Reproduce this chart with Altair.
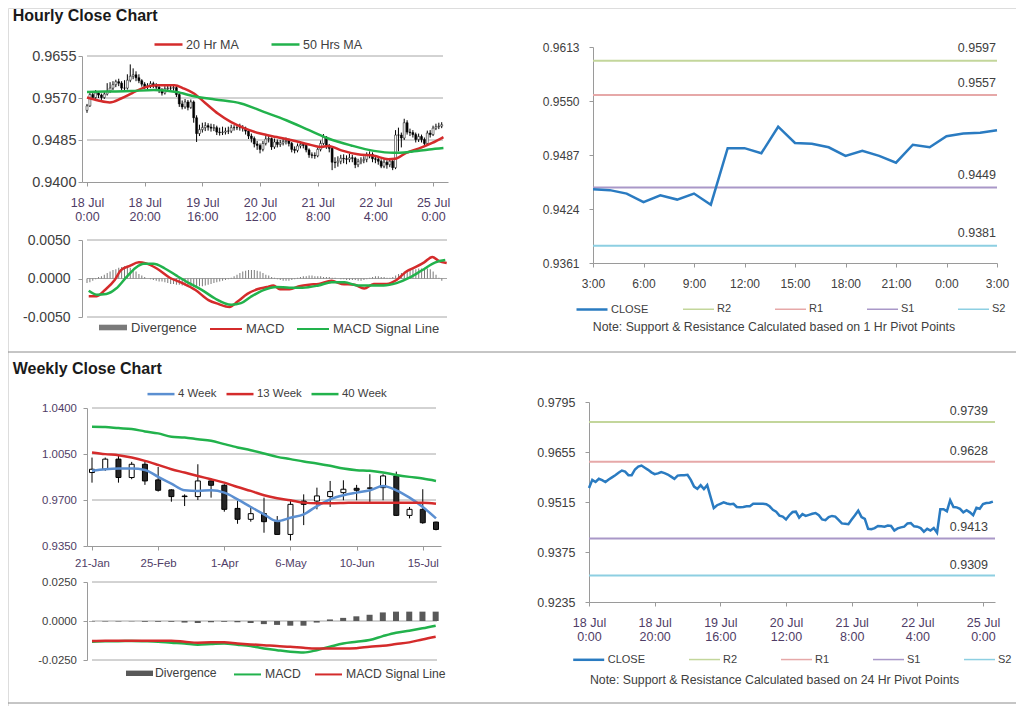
import json
import altair as alt
import pandas as pd

FONT = "Liberation Sans"

# ---------------- data ----------------
hourly_tick_labels = [["18 Jul", "0:00"], ["18 Jul", "20:00"], ["19 Jul", "16:00"], ["20 Jul", "12:00"],
                      ["21 Jul", "8:00"], ["22 Jul", "4:00"], ["25 Jul", "0:00"]]

hourly_open = [0.9545, 0.9554, 0.9577, 0.9571, 0.9580, 0.9576, 0.9571, 0.9578, 0.9584, 0.9590,
               0.9597, 0.9603, 0.9600, 0.9590, 0.9590, 0.9606, 0.9614, 0.9617, 0.9611, 0.9605,
               0.9598, 0.9593, 0.9595, 0.9599, 0.9596, 0.9592, 0.9586, 0.9580, 0.9589, 0.9590,
               0.9590, 0.9591, 0.9577, 0.9558, 0.9552, 0.9562, 0.9551, 0.9562, 0.9530, 0.9498,
               0.9506, 0.9510, 0.9514, 0.9511, 0.9509, 0.9510, 0.9501, 0.9500, 0.9501, 0.9503,
               0.9503, 0.9510, 0.9510, 0.9510, 0.9510, 0.9509, 0.9503, 0.9493, 0.9488, 0.9477,
               0.9474, 0.9466, 0.9478, 0.9487, 0.9488, 0.9471, 0.9481, 0.9476, 0.9479, 0.9482,
               0.9484, 0.9478, 0.9466, 0.9464, 0.9473, 0.9476, 0.9474, 0.9465, 0.9455, 0.9454,
               0.9453, 0.9466, 0.9478, 0.9491, 0.9473, 0.9468, 0.9440, 0.9439, 0.9442, 0.9448,
               0.9447, 0.9446, 0.9449, 0.9448, 0.9435, 0.9441, 0.9444, 0.9446, 0.9455, 0.9456,
               0.9447, 0.9446, 0.9442, 0.9432, 0.9440, 0.9435, 0.9442, 0.9429, 0.9495, 0.9495,
               0.9489, 0.9520, 0.9501, 0.9500, 0.9496, 0.9486, 0.9492, 0.9486, 0.9478, 0.9499,
               0.9496, 0.9509, 0.9512, 0.9513]
hourly_close = [0.9554, 0.9577, 0.9571, 0.9580, 0.9576, 0.9571, 0.9578, 0.9584, 0.9590, 0.9597,
                0.9603, 0.9600, 0.9590, 0.9590, 0.9606, 0.9614, 0.9617, 0.9611, 0.9605, 0.9598,
                0.9593, 0.9595, 0.9599, 0.9596, 0.9592, 0.9586, 0.9580, 0.9589, 0.9590, 0.9590,
                0.9591, 0.9577, 0.9558, 0.9552, 0.9562, 0.9551, 0.9562, 0.9530, 0.9498, 0.9506,
                0.9510, 0.9514, 0.9511, 0.9509, 0.9510, 0.9501, 0.9500, 0.9501, 0.9503, 0.9503,
                0.9510, 0.9510, 0.9510, 0.9510, 0.9509, 0.9503, 0.9493, 0.9488, 0.9477, 0.9474,
                0.9466, 0.9478, 0.9487, 0.9488, 0.9471, 0.9481, 0.9476, 0.9479, 0.9482, 0.9484,
                0.9478, 0.9466, 0.9464, 0.9473, 0.9476, 0.9474, 0.9465, 0.9455, 0.9454, 0.9453,
                0.9466, 0.9478, 0.9491, 0.9473, 0.9468, 0.9440, 0.9439, 0.9442, 0.9448, 0.9447,
                0.9446, 0.9449, 0.9448, 0.9435, 0.9441, 0.9444, 0.9446, 0.9455, 0.9456, 0.9447,
                0.9446, 0.9442, 0.9432, 0.9440, 0.9435, 0.9442, 0.9429, 0.9495, 0.9495, 0.9489,
                0.9520, 0.9501, 0.9500, 0.9496, 0.9486, 0.9492, 0.9486, 0.9478, 0.9499, 0.9496,
                0.9509, 0.9512, 0.9513, 0.9516]
hourly_high = [0.9558, 0.9580, 0.9583, 0.9586, 0.9584, 0.9579, 0.9582, 0.9600, 0.9602, 0.9604,
               0.9607, 0.9609, 0.9604, 0.9606, 0.9618, 0.9638, 0.9630, 0.9624, 0.9618, 0.9608,
               0.9602, 0.9600, 0.9604, 0.9603, 0.9600, 0.9596, 0.9590, 0.9594, 0.9596, 0.9597,
               0.9598, 0.9595, 0.9580, 0.9565, 0.9568, 0.9566, 0.9567, 0.9565, 0.9535, 0.9516,
               0.9520, 0.9521, 0.9519, 0.9518, 0.9517, 0.9514, 0.9510, 0.9512, 0.9510, 0.9512,
               0.9516, 0.9515, 0.9517, 0.9518, 0.9515, 0.9512, 0.9506, 0.9498, 0.9492, 0.9483,
               0.9478, 0.9483, 0.9493, 0.9495, 0.9490, 0.9488, 0.9486, 0.9485, 0.9489, 0.9490,
               0.9488, 0.9481, 0.9472, 0.9478, 0.9482, 0.9480, 0.9478, 0.9468, 0.9460, 0.9460,
               0.9470, 0.9484, 0.9497, 0.9493, 0.9477, 0.9470, 0.9450, 0.9452, 0.9455, 0.9456,
               0.9454, 0.9457, 0.9455, 0.9451, 0.9447, 0.9450, 0.9452, 0.9460, 0.9462, 0.9460,
               0.9453, 0.9450, 0.9446, 0.9446, 0.9444, 0.9447, 0.9446, 0.9505, 0.9510, 0.9500,
               0.9528, 0.9525, 0.9508, 0.9505, 0.9500, 0.9498, 0.9496, 0.9490, 0.9504, 0.9505,
               0.9514, 0.9518, 0.9520, 0.9521]
hourly_low = [0.9540, 0.9552, 0.9566, 0.9568, 0.9570, 0.9566, 0.9568, 0.9575, 0.9580, 0.9586,
              0.9592, 0.9594, 0.9586, 0.9585, 0.9587, 0.9602, 0.9608, 0.9604, 0.9600, 0.9593,
              0.9588, 0.9588, 0.9590, 0.9590, 0.9585, 0.9580, 0.9575, 0.9577, 0.9583, 0.9584,
              0.9585, 0.9572, 0.9552, 0.9547, 0.9548, 0.9545, 0.9548, 0.9520, 0.9481, 0.9493,
              0.9500, 0.9503, 0.9504, 0.9502, 0.9503, 0.9495, 0.9494, 0.9495, 0.9496, 0.9497,
              0.9499, 0.9504, 0.9505, 0.9504, 0.9502, 0.9496, 0.9487, 0.9480, 0.9470, 0.9465,
              0.9458, 0.9462, 0.9474, 0.9480, 0.9465, 0.9467, 0.9470, 0.9471, 0.9474, 0.9476,
              0.9472, 0.9460, 0.9458, 0.9460, 0.9468, 0.9468, 0.9460, 0.9449, 0.9448, 0.9447,
              0.9450, 0.9462, 0.9475, 0.9467, 0.9460, 0.9424, 0.9428, 0.9431, 0.9436, 0.9438,
              0.9436, 0.9440, 0.9440, 0.9428, 0.9430, 0.9436, 0.9438, 0.9440, 0.9448, 0.9440,
              0.9438, 0.9435, 0.9428, 0.9428, 0.9427, 0.9430, 0.9424, 0.9426, 0.9462, 0.9470,
              0.9485, 0.9496, 0.9493, 0.9490, 0.9480, 0.9481, 0.9480, 0.9472, 0.9475, 0.9490,
              0.9493, 0.9505, 0.9507, 0.9509]

ma20_bar = [0, 3.9, 7.9, 11.8, 15.7, 19.7, 24.2, 30.3, 33.7, 37.1, 41, 45.5, 50, 54.5, 60.1, 65.8,
            71.4, 77, 80.9, 83.7, 88.2, 93.9, 99.5, 104.5, 106.8, 110.7, 115.2, 119.7, 123.6]
ma20_val = [0.9571, 0.9565, 0.9561, 0.9569, 0.9580, 0.9591, 0.9596, 0.9596, 0.9589, 0.9579, 0.9560,
            0.9538, 0.9521, 0.9509, 0.9498, 0.9491, 0.9484, 0.9476, 0.9471, 0.9473, 0.9464, 0.9456,
            0.9453, 0.9446, 0.9447, 0.9459, 0.9468, 0.9479, 0.9491]
ma50_bar = [0, 6.2, 15.2, 23.1, 31, 37.6, 44.4, 53.4, 61.3, 69.1, 77, 83.7, 91.6, 99.5, 106.2,
            111.8, 118.6, 123.6]
ma50_val = [0.9582, 0.9583, 0.9584, 0.9586, 0.9582, 0.9573, 0.9567, 0.9559, 0.9542, 0.9525, 0.9505,
            0.9488, 0.9474, 0.9463, 0.9459, 0.9461, 0.9466, 0.9469]

macd_bar = [0.6, 3.4, 6.2, 9.6, 11.8, 14.6, 18, 20.2, 24.2, 28.7, 33.1, 37.6, 42.1, 45.5, 49.4, 52.2,
            55.6, 59, 62.4, 64.6, 66.9, 70.2, 73.6, 77, 80.3, 84.8, 88.2, 92.7, 96.1, 99.4, 103.9,
            107.3, 110.7, 114, 116.9, 119.7, 121.9, 124.7]
macd_val = [-0.0023, -0.0023, -0.0015, -0.0002, 0.0011, 0.0016, 0.0021, 0.0020, 0.0013, 0.0001,
            -0.0006, -0.0015, -0.0028, -0.0033, -0.0037, -0.0030, -0.0020, -0.0014, -0.0011, -0.0009,
            -0.0014, -0.0014, -0.0010, -0.0008, -0.0007, -0.0003, -0.0007, -0.0008, -0.0013, -0.0007,
            -0.0007, -0.0002, 0.0009, 0.0015, 0.0021, 0.0028, 0.0023, 0.0020]
sig_bar = [0.6, 3.4, 6.7, 10.1, 13.5, 16.9, 19.7, 23, 27, 30.9, 35.4, 39.9, 44.4, 50, 53.4, 56.7,
           61.2, 65.7, 70.2, 74.7, 80.3, 84.8, 89.3, 93.8, 98.3, 102.8, 107.3, 111.8, 116.3, 120.8, 124.2]
sig_val = [-0.0016, -0.0021, -0.0020, -0.0013, 0.0001, 0.0014, 0.0019, 0.0019, 0.0013, 0.0004,
           -0.0006, -0.0015, -0.0026, -0.0034, -0.0032, -0.0024, -0.0015, -0.0011, -0.0012, -0.0012,
           -0.0009, -0.0005, -0.0005, -0.0009, -0.0009, -0.0009, -0.0006, 0.0001, 0.0011, 0.0021, 0.0024]
div_h = [-0.0006, -0.0005, -0.0003, -0.0001,
         0.0002, 0.0003, 0.0005, 0.0007, 0.0009,
         0.0011, 0.0012, 0.0014, 0.0015, 0.0016, 0.0015, 0.0014, 0.0012, 0.0009,
         0.0006, 0.0004, 0.0002,
         0.0000, -0.0001, -0.0002, -0.0003, -0.0004, -0.0004, -0.0005,
         -0.0006, -0.0007, -0.0007, -0.0008, -0.0008, -0.0009, -0.0009, -0.0010, -0.0010, -0.0011,
         -0.0011, -0.0010, -0.0010, -0.0009, -0.0008, -0.0007, -0.0006, -0.0005,
         -0.0004, -0.0003, -0.0002, -0.0001, 0.0001, 0.0003, 0.0005,
         0.0007, 0.0009, 0.0010, 0.0011, 0.0011, 0.0011, 0.0010, 0.0009, 0.0007, 0.0005, 0.0004,
         0.0002, 0.0001,
         -0.0001, -0.0002, -0.0003, -0.0003, -0.0003, -0.0002, -0.0001,
         0.0001, 0.0002, 0.0003, 0.0003, 0.0004, 0.0004, 0.0003, 0.0003, 0.0003, 0.0002, 0.0002,
         0.0002, 0.0001, 0.0001, 0.0000, -0.0001, -0.0001, -0.0002, -0.0002, -0.0002,
         -0.0002, -0.0003, -0.0003, -0.0002, -0.0001, 0.0001, 0.0002,
         0.0003, 0.0003, 0.0002, 0.0002, 0.0001, 0.0001, 0.0002,
         0.0004, 0.0006, 0.0007, 0.0009, 0.0010, 0.0011, 0.0012, 0.0012, 0.0013, 0.0013, 0.0014,
         0.0013, 0.0012, 0.0009, 0.0005, 0.0001, -0.0003]

last_day_close = [0.9447, 0.9446, 0.9442, 0.9432, 0.9440, 0.9435, 0.9442, 0.9429, 0.9495, 0.9495,
                  0.9489, 0.9520, 0.9501, 0.9500, 0.9496, 0.9486, 0.9492, 0.9486, 0.9478, 0.9499,
                  0.9496, 0.9509, 0.9512, 0.9513, 0.9516]
last_day_labels = ["3:00", "6:00", "9:00", "12:00", "15:00", "18:00", "21:00", "0:00", "3:00"]

pivot_names = ["R2", "R1", "S1", "S2"]
pivot_1h = [0.9597, 0.9557, 0.9449, 0.9381]
pivot_24h = [0.9739, 0.9628, 0.9413, 0.9309]

weekly_tick_labels = ["21-Jan", "25-Feb", "1-Apr", "6-May", "10-Jun", "15-Jul"]
weekly_open = [0.9909, 0.9934, 1.0011, 0.9871, 0.9972, 0.9853, 0.9777, 0.9730, 0.9726, 0.9845,
               0.9812, 0.9636, 0.9553, 0.9596, 0.9535, 0.9438, 0.9692, 0.9692, 0.9726, 0.9756,
               0.9789, 0.9789, 0.9794, 0.9883, 0.9583, 0.9629, 0.9532]
weekly_close = [0.9934, 1.0011, 0.9871, 0.9972, 0.9845, 0.9774, 0.9726, 0.9726, 0.9845, 0.9812,
                0.9629, 0.9553, 0.9596, 0.9535, 0.9438, 0.9667, 0.9667, 0.9731, 0.9764, 0.9782,
                0.9774, 0.9792, 0.9883, 0.9583, 0.9629, 0.9527, 0.9476]
weekly_high = [1.0023, 1.0023, 1.0049, 0.9990, 0.9993, 0.9952, 0.9782, 0.9743, 0.9972, 0.9850,
               0.9820, 0.9692, 0.9654, 0.9718, 0.9578, 0.9692, 0.9743, 0.9794, 0.9845, 0.9850,
               0.9815, 0.9896, 0.9896, 0.9916, 0.9647, 0.9782, 0.9535]
weekly_low = [0.9832, 0.9922, 0.9832, 0.9858, 0.9815, 0.9764, 0.9687, 0.9654, 0.9700, 0.9718,
              0.9611, 0.9519, 0.9535, 0.9451, 0.9438, 0.9392, 0.9509, 0.9629, 0.9647, 0.9698,
              0.9698, 0.9672, 0.9698, 0.9578, 0.9560, 0.9519, 0.9469]
wk4 = [0.9922, 0.9934, 0.9939, 0.9939, 0.9929, 0.9876, 0.9825, 0.9774, 0.9769, 0.9774, 0.9756,
       0.9705, 0.9647, 0.9591, 0.9540, 0.9565, 0.9591, 0.9654, 0.9705, 0.9736, 0.9756, 0.9774,
       0.9807, 0.9774, 0.9718, 0.9647, 0.9560]
wk13 = [1.0062, 1.0049, 1.0041, 1.0023, 0.9998, 0.9967, 0.9934, 0.9909, 0.9883, 0.9858, 0.9832,
        0.9799, 0.9769, 0.9736, 0.9713, 0.9698, 0.9680, 0.9675, 0.9675, 0.9677, 0.9680, 0.9680,
        0.9680, 0.9680, 0.9680, 0.9680, 0.9672]
wk40 = [1.0257, 1.0255, 1.0247, 1.0240, 1.0222, 1.0207, 1.0181, 1.0176, 1.0163, 1.0151, 1.0125,
        1.0100, 1.0079, 1.0054, 1.0028, 1.0011, 0.9993, 0.9978, 0.9960, 0.9939, 0.9927, 0.9922,
        0.9909, 0.9891, 0.9876, 0.9863, 0.9845]
w_macd = [-0.0133, -0.0130, -0.0130, -0.0128, -0.0130, -0.0133, -0.0139, -0.0144, -0.0152, -0.0148,
          -0.0144, -0.0152, -0.0161, -0.0176, -0.0187, -0.0197, -0.0202, -0.0187, -0.0165, -0.0144,
          -0.0133, -0.0122, -0.0097, -0.0075, -0.0062, -0.0047, -0.0030]
w_signal = [-0.0129, -0.0127, -0.0127, -0.0127, -0.0127, -0.0127, -0.0127, -0.0133, -0.0139, -0.0137,
            -0.0137, -0.0144, -0.0150, -0.0155, -0.0161, -0.0165, -0.0172, -0.0176, -0.0176, -0.0176,
            -0.0174, -0.0165, -0.0159, -0.0148, -0.0137, -0.0118, -0.0101]
w_div = [-0.0003, -0.0003, -0.0003, -0.0002, -0.0005, -0.0005, -0.0005, -0.0010, -0.0013, -0.0008,
         -0.0005, -0.0008, -0.0013, -0.0020, -0.0025, -0.0030, -0.0030, -0.0010, 0.0010, 0.0020,
         0.0030, 0.0040, 0.0055, 0.0060, 0.0060, 0.0060, 0.0060]

# ---------------- styles ----------------
W, H = 1008, 698
GRID = "#a6a6a6"
AXC = "#9a9a9a"
TXT = "#404040"
DATE = "#4f3d66"
RED = "#d42b2b"
GREEN = "#22b24c"
BLUE4 = "#5b8fd1"
CLOSE_BLUE = "#2a7bc1"
PIVOT_COLORS = ["#c3d69b", "#e6a8a8", "#a998c8", "#8dcfe2"]
SIGNED = "datum.value < 0 ? '-' + format(-datum.value, '.4f') : format(datum.value, '.4f')"
BAR_SYMBOL = "M-1,-0.2H1V0.2H-1Z"


def label_expr(labels, step):
    return f"{json.dumps(labels)}[round(datum.value / {step})]"


def axis(**kw):
    base = dict(title=None, domainColor=AXC, tickColor=AXC, tickSize=4, labelFont=FONT,
                labelColor=TXT, grid=False, labelFlush=False, labelOverlap=False)
    base.update(kw)
    return alt.Axis(**base)


def legend(x, y, size, font, pad, stroke_w=2.5, offset=2, symbol="stroke"):
    return alt.Legend(orient="none", legendX=x, legendY=y, direction="horizontal", title=None,
                      symbolType=symbol, symbolSize=size, symbolStrokeWidth=stroke_w, labelFont=FONT,
                      labelFontSize=font, labelColor=TXT, labelOffset=offset, columnPadding=pad)


def bar_legend(x, y, size, font, offset):
    return alt.Legend(orient="none", legendX=x, legendY=y, direction="horizontal", title=None,
                      symbolType=BAR_SYMBOL, symbolSize=size, symbolStrokeWidth=0, labelFont=FONT,
                      labelFontSize=font, labelColor=TXT, labelOffset=offset)


def grid_rules(vals, xs, xa, x0, x1, ys, ya, color=GRID):
    return alt.Chart(pd.DataFrame({"v": vals})).mark_rule(color=color, strokeWidth=1).encode(
        x=alt.XDatum(x0, scale=xs, axis=xa), x2=alt.X2Datum(x1), y=alt.Y("v:Q", scale=ys, axis=ya))


def text_layer(text, x, y, size, weight="normal", align="left", baseline="alphabetic", color="#1a1a1a"):
    return alt.Chart(pd.DataFrame({"t": [text]})).mark_text(
        align=align, baseline=baseline, font=FONT, fontSize=size, fontWeight=weight, color=color).encode(
        x=alt.value(x), y=alt.value(y), text="t:N")


def hline(y):
    return alt.Chart(pd.DataFrame({"a": [0]})).mark_rule(color="#8c8c8c", strokeWidth=1).encode(
        x=alt.value(0), x2=alt.value(W), y=alt.value(y))


# ================= hourly candles (page x 82-448, y 56-182) =================
n_h = len(hourly_close)
dfh = pd.DataFrame({"i": list(range(n_h)), "open": hourly_open, "high": hourly_high,
                    "low": hourly_low, "close": hourly_close})
HX = alt.Scale(domain=[0, 123.45], range=[74, 440], nice=False, zero=False)
HY = alt.Scale(domain=[0.9400, 0.9655], range=[174, 48], nice=False, zero=False)
hx_axis = axis(orient="bottom", offset=174 - H, values=[0, 20, 40, 60, 80, 100, 120],
               labelExpr=label_expr(hourly_tick_labels, 20), labelFontSize=12.5, labelColor=DATE,
               labelPadding=10, labelLineHeight=14)
hy_axis = axis(orient="left", offset=-74, values=[0.94, 0.9485, 0.957, 0.9655], format=".4f",
               labelFontSize=14.5, labelPadding=2)
h_grid = grid_rules([0.9485, 0.957, 0.9655], HX, hx_axis, 0, 123.45, HY, hy_axis)
h_wick = alt.Chart(dfh).mark_rule(color="black", strokeWidth=1).encode(
    x=alt.X("i:Q", scale=HX, axis=hx_axis), y=alt.Y("low:Q", scale=HY, axis=hy_axis), y2="high:Q")
h_body = alt.Chart(dfh).mark_bar(size=2, stroke="black", strokeWidth=0.5).encode(
    x=alt.X("i:Q", scale=HX, axis=hx_axis), y=alt.Y("open:Q", scale=HY, axis=hy_axis), y2="close:Q",
    fill=alt.condition("datum.close >= datum.open", alt.value("white"), alt.value("black")))
df_ma = pd.DataFrame({"i": ma20_bar + ma50_bar, "v": ma20_val + ma50_val,
                      "s": ["20 Hr MA"] * len(ma20_bar) + ["50 Hrs MA"] * len(ma50_bar)})
h_ma = alt.Chart(df_ma).mark_line(strokeWidth=2.5, interpolate="monotone").encode(
    x=alt.X("i:Q", scale=HX, axis=hx_axis), y=alt.Y("v:Q", scale=HY, axis=hy_axis),
    color=alt.Color("s:N", scale=alt.Scale(domain=["20 Hr MA", "50 Hrs MA"], range=[RED, GREEN]),
                    legend=legend(145, 21, 784, 12.5, 27)))
price_h = alt.layer(h_grid, h_wick, h_body, h_ma)

# ================= hourly MACD (page x 82-452, y 240-317) =================
MX = alt.Scale(domain=[0, 124.8], range=[74, 444], nice=False, zero=False)
MY = alt.Scale(domain=[-0.005, 0.005], range=[309, 232], nice=False, zero=False)
my_axis = axis(orient="left", offset=-74, values=[-0.005, 0, 0.005], labelExpr=SIGNED,
               labelFontSize=14, labelPadding=8)
m_grid = grid_rules([-0.005, 0, 0.005], MX, None, 0, 124.8, MY, my_axis)
dfd = pd.DataFrame({"i": list(range(len(div_h))), "d": div_h, "k": ["Divergence"] * len(div_h)})
m_bars = alt.Chart(dfd).mark_bar(size=1).encode(
    x=alt.X("i:Q", scale=MX, axis=None), y=alt.Y("d:Q", scale=MY, axis=my_axis),
    fill=alt.Fill("k:N", scale=alt.Scale(domain=["Divergence"], range=["#7a7a7a"]),
                  legend=bar_legend(91, 305.5, 784, 13, 4)))
df_m = pd.DataFrame({"i": macd_bar + sig_bar, "v": macd_val + sig_val,
                     "s": ["MACD"] * len(macd_bar) + ["MACD Signal Line"] * len(sig_bar)})
m_lines = alt.Chart(df_m).mark_line(strokeWidth=2.5, interpolate="monotone").encode(
    x=alt.X("i:Q", scale=MX, axis=None), y=alt.Y("v:Q", scale=MY, axis=my_axis),
    color=alt.Color("s:N", scale=alt.Scale(domain=["MACD", "MACD Signal Line"], range=[RED, GREEN]),
                    legend=legend(201, 304, 1024, 13, 8, stroke_w=2, offset=3)))
macd_h = alt.layer(m_grid, m_bars, m_lines)


# ================= pivot panels =================
def pivot_panel(close_vals, xs, xa, xmax, ys, ya, levels, close_lx, piv_lx, ly, lab_dx, lab_dy):
    dfc = pd.DataFrame({"i": list(range(len(close_vals))), "v": close_vals, "s": ["CLOSE"] * len(close_vals)})
    dfp = pd.DataFrame({"v": levels, "s": pivot_names})
    rules = alt.Chart(dfp).mark_rule(strokeWidth=2).encode(
        x=alt.XDatum(0, scale=xs, axis=xa), x2=alt.X2Datum(xmax), y=alt.Y("v:Q", scale=ys, axis=ya),
        stroke=alt.Stroke("s:N", scale=alt.Scale(domain=pivot_names, range=PIVOT_COLORS),
                          legend=legend(piv_lx, ly, 961, 11, 40, stroke_w=1.5)))
    line = alt.Chart(dfc).mark_line(strokeWidth=2.5).encode(
        x=alt.X("i:Q", scale=xs, axis=xa), y=alt.Y("v:Q", scale=ys, axis=ya),
        color=alt.Color("s:N", scale=alt.Scale(domain=["CLOSE"], range=[CLOSE_BLUE]),
                        legend=legend(close_lx, ly, 961, 11, 40, stroke_w=2.5)))
    labels = alt.Chart(dfp).mark_text(align="right", baseline="middle", dx=lab_dx, dy=lab_dy, font=FONT,
                                      fontSize=12.5, color=TXT).encode(
        x=alt.XDatum(xmax, scale=xs, axis=xa), y=alt.Y("v:Q", scale=ys, axis=ya),
        text=alt.Text("v:Q", format=".4f"))
    return alt.layer(rules, line, labels)


# top right: page x 593-997, y 47-263
RX = alt.Scale(domain=[0, 24], range=[585, 989], nice=False, zero=False)
RY = alt.Scale(domain=[0.9361, 0.9613], range=[255, 39], nice=False, zero=False)
rx_axis = axis(orient="bottom", offset=255 - H, values=list(range(0, 25, 3)),
               labelExpr=label_expr(last_day_labels, 3), labelFontSize=12, labelPadding=11.4)
ry_axis = axis(orient="left", offset=-585, values=[0.9361, 0.9424, 0.9487, 0.955, 0.9613], format=".4f",
               labelFontSize=12, labelPadding=10)
right_top = pivot_panel(last_day_close, RX, rx_axis, 24, RY, ry_axis, pivot_1h, 567, 674, 284.5, -1, -12.5)

# bottom right: page x 589-995, y 402-602
BX = alt.Scale(domain=[0, 123.65], range=[581, 987], nice=False, zero=False)
BY = alt.Scale(domain=[0.9235, 0.9795], range=[594, 394], nice=False, zero=False)
bx_axis = axis(orient="bottom", offset=594 - H, values=[0, 20, 40, 60, 80, 100, 120],
               labelExpr=label_expr(hourly_tick_labels, 20), labelFontSize=12.5, labelColor=DATE,
               labelPadding=10.4, labelLineHeight=14.4)
by_axis = axis(orient="left", offset=-581, values=[0.9235, 0.9375, 0.9515, 0.9655, 0.9795], format=".4f",
               labelFontSize=12.5, labelPadding=10)
right_bot = pivot_panel(hourly_close, BX, bx_axis, 123.65, BY, by_axis, pivot_24h, 563.7, 680, 634.8, -7, -11)

# ================= weekly candles (page x 87-441, y 408-546) =================
n_w = len(weekly_close)
dfw = pd.DataFrame({"i": list(range(n_w)), "open": weekly_open, "high": weekly_high,
                    "low": weekly_low, "close": weekly_close})
WX = alt.Scale(domain=[0, 26], range=[79, 433], nice=False, zero=False)
WY = alt.Scale(domain=[0.935, 1.04], range=[538, 400], nice=False, zero=False)
wx_axis = axis(orient="bottom", offset=538 - H, values=[0, 5, 10, 15, 20, 25],
               labelExpr=label_expr(weekly_tick_labels, 5), labelFontSize=11.4, labelColor=DATE,
               labelPadding=7.7)
wy_axis = axis(orient="left", offset=-79, values=[0.935, 0.97, 1.005, 1.04], format=".4f",
               labelFontSize=11.4, labelColor=DATE, labelPadding=6.6)
w_grid = grid_rules([0.97, 1.005, 1.04], WX, wx_axis, 0, 26, WY, wy_axis)
w_wick = alt.Chart(dfw).mark_rule(color="black", strokeWidth=1).encode(
    x=alt.X("i:Q", scale=WX, axis=wx_axis), y=alt.Y("low:Q", scale=WY, axis=wy_axis), y2="high:Q")
w_body = alt.Chart(dfw).mark_bar(size=5, stroke="black", strokeWidth=1).encode(
    x=alt.X("i:Q", scale=WX, axis=wx_axis), y=alt.Y("open:Q", scale=WY, axis=wy_axis), y2="close:Q",
    fill=alt.condition("datum.close >= datum.open", alt.value("white"), alt.value("#262626")))
df_wma = pd.DataFrame({"i": list(range(n_w)) * 3, "v": wk4 + wk13 + wk40,
                       "s": ["4 Week"] * n_w + ["13 Week"] * n_w + ["40 Week"] * n_w})
w_ma = alt.Chart(df_wma).mark_line(strokeWidth=2.5, interpolate="monotone").encode(
    x=alt.X("i:Q", scale=WX, axis=wx_axis), y=alt.Y("v:Q", scale=WY, axis=wy_axis),
    color=alt.Color("s:N", scale=alt.Scale(domain=["4 Week", "13 Week", "40 Week"],
                                           range=[BLUE4, RED, GREEN]),
                    legend=legend(138, 370.8, 729, 11.4, 4)))
price_w = alt.layer(w_grid, w_wick, w_body, w_ma)

# ================= weekly MACD (page x 87-442, y 582-660) =================
WMX = alt.Scale(domain=[0, 26.1], range=[79, 434], nice=False, zero=False)
WMY = alt.Scale(domain=[-0.025, 0.025], range=[652, 574], nice=False, zero=False)
wmy_axis = axis(orient="left", offset=-79, values=[-0.025, 0, 0.025], labelExpr=SIGNED,
                labelFontSize=11.4, labelPadding=6.6)
wm_grid = grid_rules([-0.025, 0, 0.025], WMX, None, 0, 26.1, WMY, wmy_axis)
dfwd = pd.DataFrame({"i": list(range(n_w)), "d": w_div, "k": ["Divergence"] * n_w})
wm_bars = alt.Chart(dfwd).mark_bar(size=6).encode(
    x=alt.X("i:Q", scale=WMX, axis=None), y=alt.Y("d:Q", scale=WMY, axis=wmy_axis),
    fill=alt.Fill("k:N", scale=alt.Scale(domain=["Divergence"], range=["#595959"]),
                  legend=bar_legend(118, 651.8, 729, 12.2, 2)))
df_wm = pd.DataFrame({"i": list(range(n_w)) * 2, "v": w_macd + w_signal,
                      "s": ["MACD"] * n_w + ["MACD Signal Line"] * n_w})
wm_lines = alt.Chart(df_wm).mark_line(strokeWidth=2.5, interpolate="monotone").encode(
    x=alt.X("i:Q", scale=WMX, axis=None), y=alt.Y("v:Q", scale=WMY, axis=wmy_axis),
    color=alt.Color("s:N", scale=alt.Scale(domain=["MACD", "MACD Signal Line"], range=[GREEN, RED]),
                    legend=legend(225, 651.8, 729, 12.2, 10, stroke_w=2, offset=3)))
macd_w = alt.layer(wm_grid, wm_bars, wm_lines)

# ================= texts & separators =================
deco = [
    text_layer("Hourly Close Chart", 4.7, 12.5, 16, weight="bold"),
    text_layer("Weekly Close Chart", 4.7, 365.5, 16, weight="bold"),
    text_layer("Note: Support & Resistance Calculated based on 1 Hr Pivot Points", 766, 319, 12.3,
               align="center", baseline="middle", color=TXT),
    text_layer("Note: Support & Resistance Calculated based on 24 Hr Pivot Points", 766.5, 672, 12.3,
               align="center", baseline="middle", color=TXT),
    hline(344),
    hline(695),
]

chart = alt.layer(price_h, macd_h, right_top, price_w, macd_w, right_bot, *deco).resolve_scale(
    x="independent", y="independent", color="independent", fill="independent", stroke="independent"
).resolve_axis(x="independent", y="independent").resolve_legend(
    color="independent", fill="independent", stroke="independent"
).properties(width=W, height=H, padding=0, autosize=alt.AutoSizeParams(type="none")).configure_view(
    stroke=None).configure(font=FONT)

chart.save("out.html", embed_options={"renderer": "svg", "actions": False})
